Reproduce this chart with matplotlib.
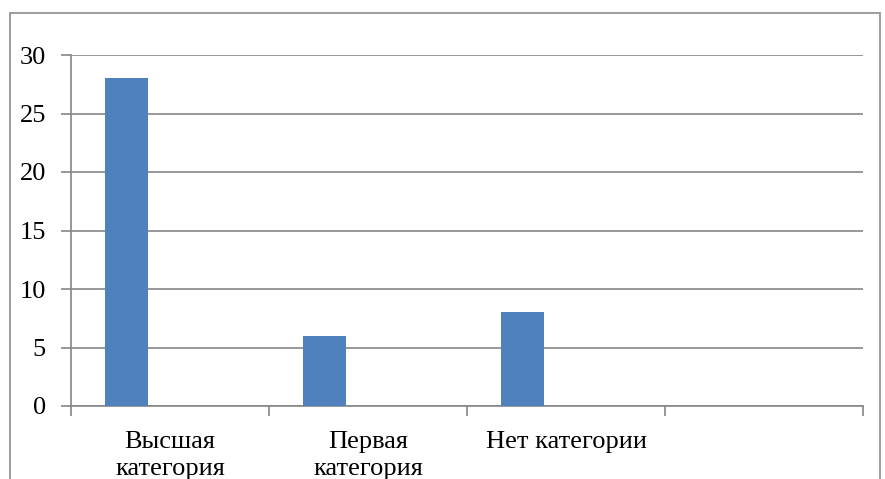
import matplotlib.pyplot as plt
import matplotlib.patches as mpatches
import numpy as np

plt.rcParams['font.family'] = 'serif'
plt.rcParams['font.serif'] = ['Liberation Serif', 'Times New Roman', 'DejaVu Serif']

categories = ['Высшая\nкатегория', 'Первая\nкатегория', 'Нет категории', '']
values = [28, 6, 8, None]
yticks = [0, 5, 10, 15, 20, 25, 30]

W, H = 885, 479
fig = plt.figure(figsize=(W / 100, H / 100), dpi=100)

# outer chart frame (bottom edge is cut off in the picture)
fig.patches.append(mpatches.Rectangle((10 / W, -0.1), 870 / W, (H - 13) / H + 0.1,
                                      transform=fig.transFigure, fill=False,
                                      edgecolor='#8c8c8c', linewidth=1.2))

ax = fig.add_axes([71 / W, 1 - 406 / H, (863 - 71) / W, (406 - 55) / H])

x = np.arange(len(categories))
vals = [v for v in values if v is not None]
ax.bar(x[:len(vals)] - 0.22, vals, width=0.217, color='#4F81BD', zorder=3)

ax.set_xlim(-0.5, len(categories) - 0.5)
ax.set_ylim(0, 30)
ax.set_yticks(yticks)
ax.set_yticklabels([str(t) for t in yticks], fontsize=19)
ax.yaxis.grid(True, color='#868686', linewidth=1.2, zorder=0)

ax.set_xticks(x)
ax.set_xticklabels(categories, fontsize=19, linespacing=1.3)
ax.set_xticks(np.arange(len(categories) + 1) - 0.5, minor=True)
ax.tick_params(axis='x', which='major', length=0, pad=18)
ax.tick_params(axis='x', which='minor', length=7, color='#868686', width=1.2)
ax.tick_params(axis='y', length=7, color='#868686', width=1.2, pad=11)

for s in ['top', 'right']:
    ax.spines[s].set_visible(False)
for s in ['left', 'bottom']:
    ax.spines[s].set_color('#868686')
    ax.spines[s].set_linewidth(1.2)

fig.savefig('out.png', dpi=100)
